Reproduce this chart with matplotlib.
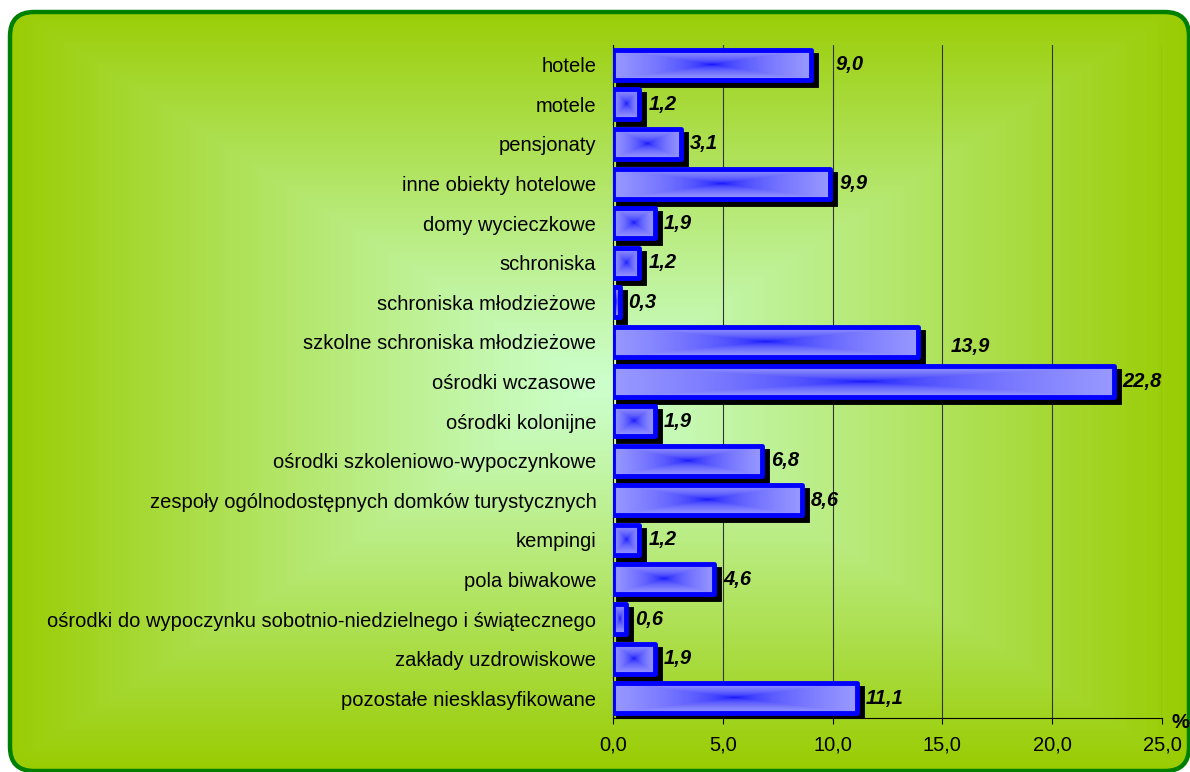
from matplotlib import pyplot as plt
from matplotlib.patches import Rectangle, FancyBboxPatch
from matplotlib.colors import to_rgb
import matplotlib.transforms as mtransforms

import numpy as np

plt.rcParams["font.family"] = ["Liberation Sans", "DejaVu Sans"]

categories = [
    "hotele",
    "motele",
    "pensjonaty",
    "inne obiekty hotelowe",
    "domy wycieczkowe",
    "schroniska",
    "schroniska młodzieżowe",
    "szkolne schroniska młodzieżowe",
    "ośrodki wczasowe",
    "ośrodki kolonijne",
    "ośrodki szkoleniowo-wypoczynkowe",
    "zespoły ogólnodostępnych domków turystycznych",
    "kempingi",
    "pola biwakowe",
    "ośrodki do wypoczynku sobotnio-niedzielnego i świątecznego",
    "zakłady uzdrowiskowe",
    "pozostałe niesklasyfikowane",
]
values = [9.0, 1.2, 3.1, 9.9, 1.9, 1.2, 0.3, 13.9, 22.8, 1.9, 6.8, 8.6, 1.2, 4.6, 0.6, 1.9, 11.1]
xTicks = [0, 5, 10, 15, 20, 25]
xTickLabels = ["0,0", "5,0", "10,0", "15,0", "20,0", "25,0"]

W, H = 1190, 772
DPI = 100


def RectGradient(nx, ny, innerColor, outerColor, power=1.0, cx=0.5, cy=0.5):
    # excel style "from center" gradient: rectangular rings
    u = np.abs(np.linspace(0, 1, nx) - cx) / max(cx, 1 - cx)
    v = np.abs(np.linspace(0, 1, ny) - cy) / max(cy, 1 - cy)
    t = np.maximum(u[None, :], v[:, None])
    t = np.clip(t, 0, 1) ** power
    c0 = np.array(to_rgb(innerColor))
    c1 = np.array(to_rgb(outerColor))
    return c0[None, None, :] * (1 - t[..., None]) + c1[None, None, :] * t[..., None]


def DrawBackground(fig):
    bg = fig.add_axes([0, 0, 1, 1], zorder=0)
    bg.set_xlim(0, W)
    bg.set_ylim(H, 0)
    bg.axis("off")
    frame = FancyBboxPatch((10, 12), W - 11, H - 13, boxstyle="round,pad=0,rounding_size=24",
                           facecolor="none", edgecolor="#008000", linewidth=3.2, zorder=3)
    bg.add_patch(frame)
    img = RectGradient(400, 260, "#ccffcc", "#99cc00", power=1.1)
    im = bg.imshow(img, extent=(0, W, H, 0), aspect="auto", zorder=1, interpolation="bilinear")
    im.set_clip_path(frame)


def DrawBar(ax, fig, y, value, height=0.76):
    shadow = mtransforms.ScaledTranslation(5 / DPI, -5 / DPI, fig.dpi_scale_trans)
    ax.add_patch(Rectangle((0, y - height / 2), value, height, facecolor="black",
                           edgecolor="black", linewidth=3.5, transform=ax.transData + shadow, zorder=3))
    img = RectGradient(300, 60, "#0000ff", "#9999ff", power=0.45)
    im = ax.imshow(img, extent=(0, value, y + height / 2, y - height / 2), aspect="auto",
                   zorder=4, interpolation="bilinear")
    box = Rectangle((0, y - height / 2), value, height, facecolor="none", edgecolor="#0000ff",
                    linewidth=3.5, joinstyle="round", zorder=5)
    ax.add_patch(box)
    im.set_clip_path(Rectangle((0, y - height / 2), value, height, transform=ax.transData))


fig = plt.figure(figsize=(W / DPI, H / DPI), dpi=DPI)
DrawBackground(fig)

ax = fig.add_axes([613 / W, 1 - 718 / H, (1162 - 613) / W, (718 - 45) / H], zorder=2)
ax.patch.set_alpha(0)

yPos = np.arange(len(categories))
for y, v in zip(yPos, values):
    DrawBar(ax, fig, y, v)

# a couple of labels sit further out in the original
extraOffset = {0: 16, 7: 23}
for i, (y, v) in enumerate(zip(yPos, values)):
    off = mtransforms.offset_copy(ax.transData, fig=fig, x=9 + extraOffset.get(i, 0), y=0, units="dots")
    ax.text(v, y + (0.12 if i == 7 else 0), f"{v:.1f}".replace(".", ","), transform=off,
            fontsize=14.5, fontweight="bold", fontstyle="italic", va="center", ha="left", zorder=6)

ax.set_xlim(0, 25)
ax.set_ylim(len(categories) - 0.5, -0.5)
ax.set_xticks(xTicks)
ax.set_xticklabels(xTickLabels, fontsize=14.5)
ax.set_yticks(yPos)
ax.set_yticklabels(categories, fontsize=14.5)
ax.tick_params(axis="y", which="major", length=0, pad=12)
ax.tick_params(axis="x", length=4.5, width=0.8, direction="out", pad=8)
ax.grid(axis="x", color="#333333", linewidth=0.8, zorder=1)
ax.set_axisbelow(True)
for s in ["top", "right"]:
    ax.spines[s].set_visible(False)
ax.spines["left"].set_linewidth(0.8)
ax.spines["bottom"].set_linewidth(0.8)

fig.text(1180 / W, 1 - 723 / H, "%", fontsize=14.5, fontweight="bold", ha="center", va="center")

fig.savefig("out.png", dpi=DPI)
